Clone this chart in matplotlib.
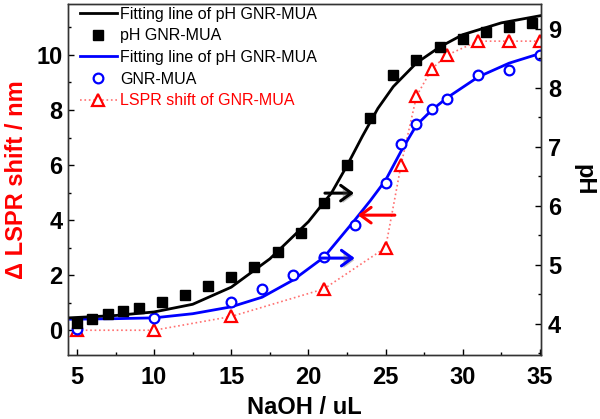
import matplotlib.pyplot as plt
import matplotlib.patheffects as pe
from matplotlib.lines import Line2D
from matplotlib.ticker import MultipleLocator

plt.rcParams['font.family'] = ['Liberation Sans', 'DejaVu Sans']

# pH GNR-MUA (right axis)
naoh_ph = [5, 6, 7, 8, 9, 10.5, 12, 13.5, 15, 16.5, 18, 19.5, 21, 22.5,
           24, 25.5, 27, 28.5, 30, 31.5, 33, 34.5]
ph_vals = [4.02, 4.08, 4.17, 4.22, 4.27, 4.37, 4.49, 4.64, 4.79, 4.97, 5.22,
           5.54, 6.05, 6.69, 7.49, 8.22, 8.47, 8.69, 8.83, 8.95, 9.03, 9.10]

# fitting line of pH
fit_ph_x = [4.5, 7.5, 10, 12.5, 15, 17.5, 20, 21.5, 22.5, 23.5, 24.5, 25.5,
            27, 28.5, 30, 32.5, 35]
fit_ph = [4.10, 4.14, 4.20, 4.33, 4.62, 5.10, 5.73, 6.22, 6.68, 7.18, 7.65,
          8.02, 8.42, 8.69, 8.90, 9.10, 9.22]

# GNR-MUA circles (left axis)
naoh_gnr = [5, 10, 15, 17, 19, 21, 23, 25, 26, 27, 28, 29, 31, 33, 35]
gnr_vals = [0.04, 0.44, 1.02, 1.49, 2.0, 2.65, 3.82, 5.35, 6.76, 7.49, 8.04,
            8.40, 9.27, 9.45, 10.0]

fit_gnr_x = [4.5, 7.5, 10, 12.5, 15, 17, 19, 21, 23, 24, 25, 26, 27, 28, 29,
             31, 33, 35]
fit_gnr = [0.40, 0.42, 0.45, 0.60, 0.85, 1.20, 1.82, 2.65, 4.0, 4.7, 5.45,
           6.5, 7.45, 8.0, 8.45, 9.2, 9.7, 10.05]

# LSPR shift of GNR-MUA (left axis)
naoh_lspr = [5, 10, 15, 21, 25, 26, 27, 28, 29, 31, 33, 35]
lspr_vals = [0, 0, 0.5, 1.5, 3.0, 6.0, 8.5, 9.5, 10.0, 10.5, 10.5, 10.5]

fig = plt.figure(figsize=(6, 4.19), dpi=100)
ax1 = fig.add_axes([0.1133, 0.1527, 0.7884, 0.8378])
ax2 = ax1.twinx()

# data
ax2.plot(fit_ph_x, fit_ph, color='black', lw=2.0)
ax2.plot(naoh_ph, ph_vals, 's', color='black', ms=7, ls='none')
ax1.plot(naoh_lspr, lspr_vals, ls=':', color='#ff7070', lw=1.2,
         marker='^', ms=8.5, mfc='white', mec='red', mew=1.6)
ax1.plot(fit_gnr_x, fit_gnr, color='blue', lw=2.0)
ax1.plot(naoh_gnr, gnr_vals, 'o', ms=7, mfc='white', mec='blue', mew=1.6,
         ls='none')

# arrows
shadow = [pe.withSimplePatchShadow(offset=(1.5, -1.5), alpha=0.35)]
arrows = [((21.07, 4.98), (22.95, 4.98), 'black'),
          ((20.75, 2.62), (23.0, 2.62), 'blue'),
          ((25.6, 4.18), (23.2, 4.18), 'red')]
for start, end, c in arrows:
    ann = ax1.annotate('', xy=end, xytext=start,
                       arrowprops=dict(arrowstyle='->,head_length=0.55,head_width=0.4',
                                       color=c, lw=2.2, shrinkA=0, shrinkB=0,
                                       mutation_scale=14))
    if c != 'red':
        ann.arrow_patch.set_path_effects(shadow)

# axes
ax1.set_xlim(4.42, 35.07)
ax1.set_ylim(-0.9, 11.85)
ax2.set_ylim(3.47, 9.42)
ax1.set_xticks(range(5, 36, 5))
ax1.xaxis.set_minor_locator(MultipleLocator(2.5))
ax1.set_yticks(range(0, 11, 2))
ax1.yaxis.set_minor_locator(MultipleLocator(1))
ax2.set_yticks(range(4, 10))
ax2.yaxis.set_minor_locator(MultipleLocator(0.5))

for ax in (ax1, ax2):
    ax.tick_params(which='major', direction='in', length=4.5, width=1.0,
                   labelsize=17)
    ax.tick_params(which='minor', direction='in', length=2.5, width=1.0)
    for s in ax.spines.values():
        s.set_linewidth(1.0)
        s.set_color('#333333')
    for lab in ax.get_xticklabels() + ax.get_yticklabels():
        lab.set_fontweight('bold')
ax1.tick_params(axis='x', pad=8)
ax1.tick_params(axis='y', pad=4)
ax2.tick_params(axis='y', pad=5)

ax1.set_xlabel('NaOH / uL', fontsize=17, fontweight='bold', labelpad=5)
ax1.set_ylabel('Δ LSPR shift / nm', fontsize=17, fontweight='bold',
               color='red', labelpad=6)
ax2.set_ylabel('pH', fontsize=17, fontweight='bold', rotation=270,
               va='bottom', labelpad=8)

# legend
handles = [
    Line2D([], [], color='black', lw=2.0),
    Line2D([], [], marker='s', color='black', ms=7, ls='none'),
    Line2D([], [], color='blue', lw=2.0),
    Line2D([], [], marker='o', ms=7, mfc='white', mec='blue', mew=1.6, ls='none'),
    Line2D([], [], ls=':', color='#ff7070', lw=1.2, marker='^', ms=8.5,
           mfc='white', mec='red', mew=1.6),
]
labels = ['Fitting line of pH GNR-MUA', 'pH GNR-MUA',
          'Fitting line of pH GNR-MUA', 'GNR-MUA', 'LSPR shift of GNR-MUA']
leg = ax2.legend(handles, labels, loc='upper left', bbox_to_anchor=(0.022, 0.997),
                 frameon=False, fontsize=11.5, handlelength=2.3,
                 handletextpad=0.2, labelspacing=0.42, borderpad=0.1,
                 borderaxespad=0)
leg.get_texts()[4].set_color('red')

fig.savefig('out.png', dpi=100)
